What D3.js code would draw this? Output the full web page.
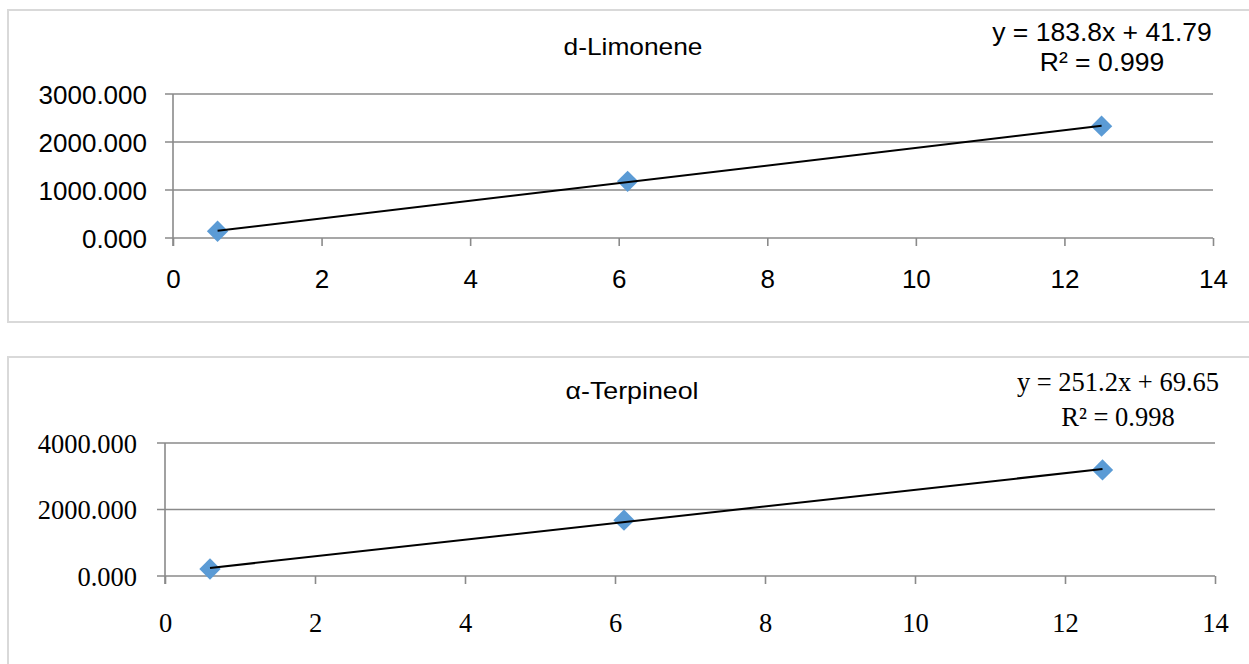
<!DOCTYPE html>
<html>
<head>
<meta charset="utf-8">
<script src="https://cdn.jsdelivr.net/npm/d3@7"></script>
<style>
  html, body { margin: 0; padding: 0; background: #fff; }
  svg { display: block; }
</style>
</head>
<body>
<svg id="chart" width="1249" height="664"></svg>
<script>
// ---- Data ----
const xTicks = [0, 2, 4, 6, 8, 10, 12, 14];

const limoneneTitle = "d-Limonene";
const limoneneX = [0.6, 6.12, 12.5];
const limoneneY = [140, 1180, 2330];
const limoneneYTicks = [0, 1000, 2000, 3000];
const limoneneEq = ["y = 183.8x + 41.79", "R² = 0.999"];

const terpineolTitle = "α-Terpineol";
const terpineolX = [0.6, 6.12, 12.5];
const terpineolY = [210, 1680, 3190];
const terpineolYTicks = [0, 2000, 4000];
const terpineolEq = ["y = 251.2x + 69.65", "R² = 0.998"];

// ---- Helpers ----
const svg = d3.select("#chart");
const GRID = "#8a8a8a";
const MARK = "#5B9BD5";

function linFit(xs, ys) {
  const mx = d3.mean(xs), my = d3.mean(ys);
  let sxy = 0, sxx = 0;
  xs.forEach((x, i) => { sxy += (x - mx) * (ys[i] - my); sxx += (x - mx) * (x - mx); });
  const b = sxy / sxx;
  return { slope: b, intercept: my - b * mx };
}

function drawChart(cfg) {
  const g = svg.append("g");
  // outer frame
  g.append("rect")
    .attr("x", cfg.frame[0]).attr("y", cfg.frame[1])
    .attr("width", cfg.frame[2]).attr("height", cfg.frame[3])
    .attr("fill", "#fff").attr("stroke", "#d9d9d9").attr("stroke-width", 2);

  const x = d3.scaleLinear().domain([0, 14]).range([cfg.left, cfg.right]);
  const y = d3.scaleLinear().domain([0, d3.max(cfg.yTicks)]).range([cfg.bottom, cfg.top]);

  // horizontal gridlines (including left tick stub)
  g.append("g").selectAll("line").data(cfg.yTicks).join("line")
    .attr("x1", cfg.left - 8).attr("x2", cfg.right)
    .attr("y1", d => y(d)).attr("y2", d => y(d))
    .attr("stroke", GRID).attr("stroke-width", 1.6);

  // y axis (left) - labels only, line drawn separately
  const ya = g.append("g").attr("transform", `translate(${cfg.left},0)`)
    .call(d3.axisLeft(y).tickValues(cfg.yTicks).tickSize(0).tickFormat(d3.format(".3f")));
  ya.select(".domain").remove();
  ya.selectAll("text")
    .attr("x", -cfg.yLabelGap).attr("dy", "0.35em")
    .attr("fill", "#000")
    .style("font-family", cfg.font).style("font-size", cfg.labelSize + "px");

  // vertical axis line
  g.append("line")
    .attr("x1", cfg.left).attr("x2", cfg.left)
    .attr("y1", cfg.top).attr("y2", cfg.bottom + 8)
    .attr("stroke", GRID).attr("stroke-width", 1.6);

  // x axis
  const xa = g.append("g").attr("transform", `translate(0,${cfg.bottom})`)
    .call(d3.axisBottom(x).tickValues(xTicks).tickSize(8).tickFormat(d3.format("d")));
  xa.select(".domain").remove();
  xa.selectAll(".tick line").attr("stroke", GRID).attr("stroke-width", 1.6);
  xa.selectAll("text")
    .attr("y", cfg.xLabelGap).attr("dy", "0.35em")
    .attr("fill", "#000")
    .style("font-family", cfg.font).style("font-size", cfg.labelSize + "px");

  // trend line (least squares over the points)
  const fit = linFit(cfg.xs, cfg.ys);
  const x0 = d3.min(cfg.xs), x1 = d3.max(cfg.xs);

  // markers
  const pts = cfg.xs.map((v, i) => [v, cfg.ys[i]]);
  g.append("g").selectAll("path").data(pts).join("path")
    .attr("d", d3.symbol().type(d3.symbolDiamond2).size(290))
    .attr("transform", d => `translate(${x(d[0])},${y(d[1])})`)
    .attr("fill", MARK);

  g.append("line")
    .attr("x1", x(x0)).attr("y1", y(fit.slope * x0 + fit.intercept))
    .attr("x2", x(x1)).attr("y2", y(fit.slope * x1 + fit.intercept))
    .attr("stroke", "#000").attr("stroke-width", 2);

  // title
  g.append("text")
    .attr("x", cfg.titlePos[0]).attr("y", cfg.titlePos[1]).attr("dy", "0.35em")
    .attr("text-anchor", "middle")
    .attr("textLength", cfg.titleLen).attr("lengthAdjust", "spacingAndGlyphs")
    .style("font-family", "'Liberation Sans', Arial, sans-serif")
    .style("font-size", "24px").attr("fill", "#000")
    .text(cfg.title);

  // equation
  cfg.eq.forEach((t, i) => {
    g.append("text")
      .attr("x", cfg.eqPos[0]).attr("y", cfg.eqPos[1 + i]).attr("dy", "0.35em")
      .attr("text-anchor", "middle")
      .style("font-family", cfg.font).style("font-size", cfg.eqSize + "px")
      .attr("fill", "#000")
      .text(t);
  });
}

drawChart({
  frame: [8, 10, 1260, 312],
  left: 173, right: 1213, top: 94, bottom: 238,
  xs: limoneneX, ys: limoneneY, yTicks: limoneneYTicks,
  font: "'Liberation Sans', Arial, sans-serif",
  labelSize: 26, eqSize: 26.5,
  yLabelGap: 26, xLabelGap: 41,
  title: limoneneTitle, titlePos: [633, 47], titleLen: 139,
  eq: limoneneEq, eqPos: [1102, 32, 62]
});

drawChart({
  frame: [8, 357, 1260, 330],
  left: 165, right: 1215, top: 443, bottom: 576,
  xs: terpineolX, ys: terpineolY, yTicks: terpineolYTicks,
  font: "'Liberation Serif', 'Times New Roman', serif",
  labelSize: 26.5, eqSize: 26.5,
  yLabelGap: 28, xLabelGap: 47,
  title: terpineolTitle, titlePos: [632, 391], titleLen: 133,
  eq: terpineolEq, eqPos: [1118, 382, 417]
});
</script>
</body>
</html>
